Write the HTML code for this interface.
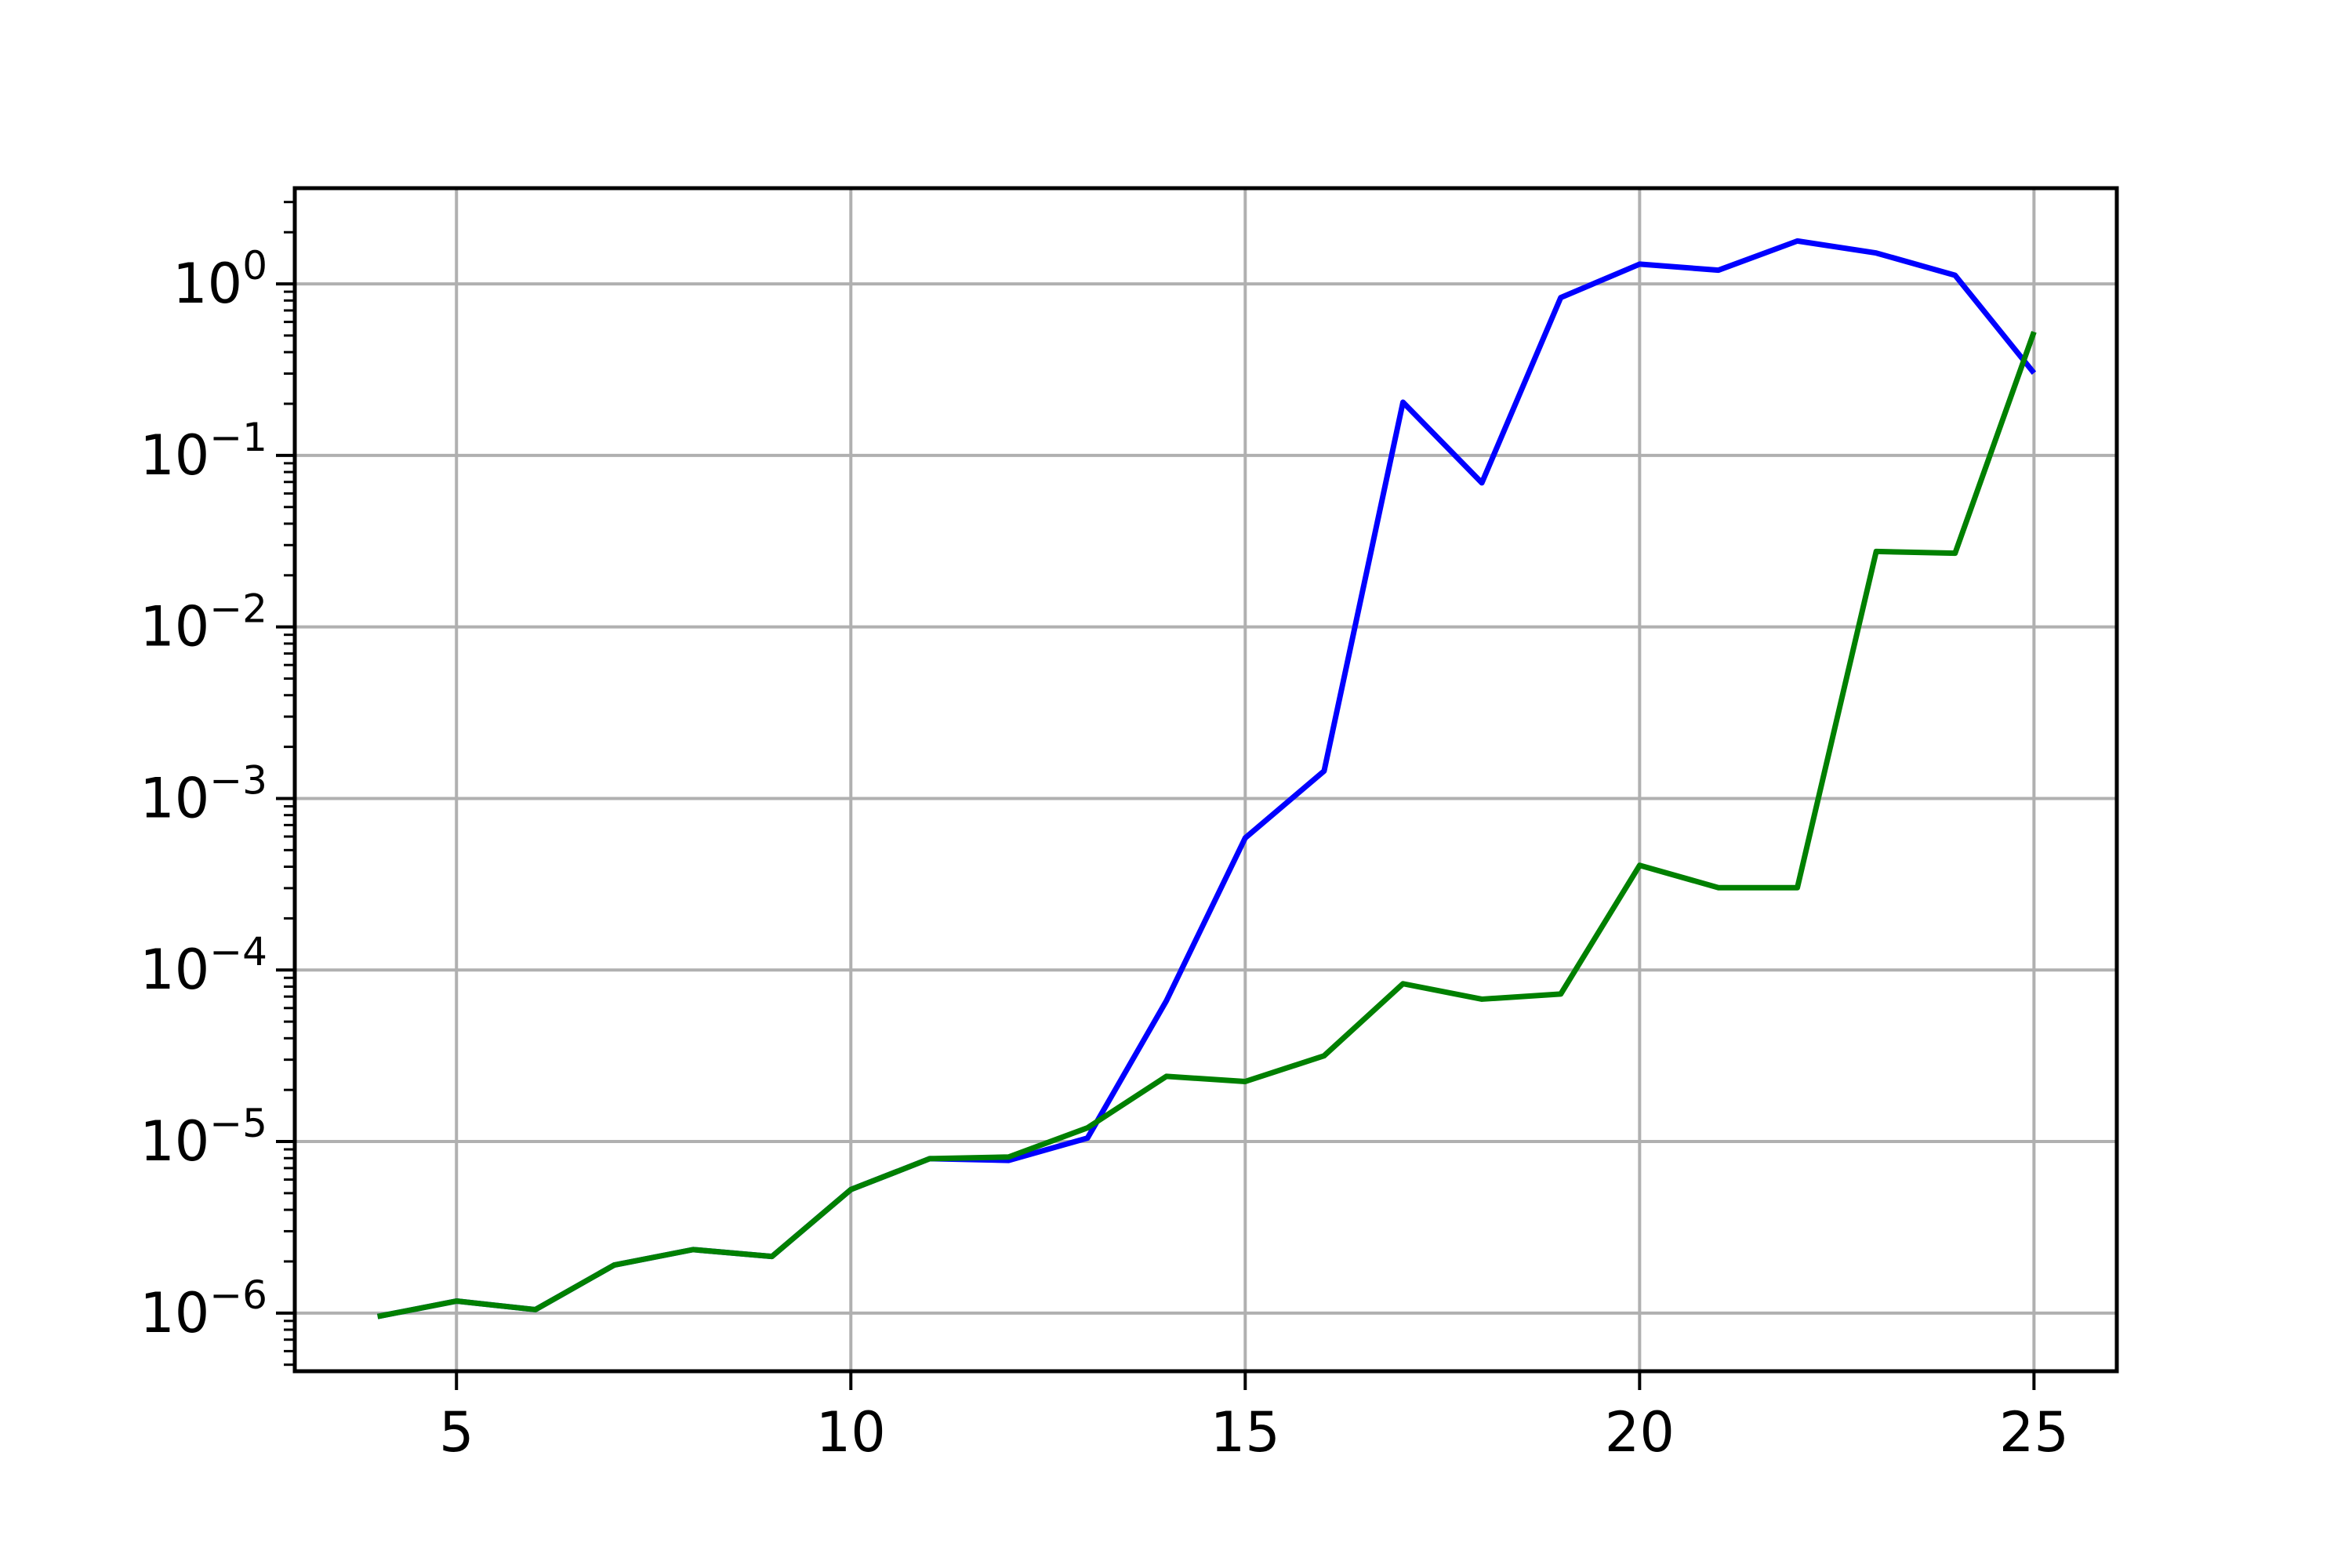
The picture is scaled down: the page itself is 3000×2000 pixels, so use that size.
<!DOCTYPE html>
<html><head><meta charset="utf-8"><style>html,body{margin:0;padding:0;background:#fff}svg{display:block}</style></head>
<body>
<svg id="chart" width="3000" height="2000" xmlns="http://www.w3.org/2000/svg" font-family="'DejaVu Sans','Liberation Sans',sans-serif">
<rect width="3000" height="2000" fill="#fff"/>
<g id="grid"></g><g id="series"></g><g id="axes"></g>
</svg>
<script>
const xs = [4,5,6,7,8,9,10,11,12,13,14,15,16,17,18,19,20,21,22,23,24,25];
const blueLog = [-6.02,-5.93,-5.98,-5.72,-5.63,-5.67,-5.28,-5.10,-5.11,-4.98,-4.18,-3.23,-2.84,-0.69,-1.16,-0.08,0.115,0.08,0.25,0.18,0.05,-0.52];
const greenLog = [-6.02,-5.93,-5.98,-5.72,-5.63,-5.67,-5.28,-5.10,-5.09,-4.92,-4.62,-4.65,-4.50,-4.08,-4.17,-4.14,-3.39,-3.52,-3.52,-1.56,-1.57,-0.28];
const xTicks = [5,10,15,20,25];
const yTickExps = [0,-1,-2,-3,-4,-5,-6];

const L=376,R=2700,T=240,B=1749;
const xMin=2.95,xMax=26.05,yMin=-6.339,yMax=0.558;
const X=v=>L+(v-xMin)/(xMax-xMin)*(R-L);
const Y=lg=>T+(yMax-lg)/(yMax-yMin)*(B-T);
const NS="http://www.w3.org/2000/svg";
function mk(tag,attrs,parent){const e=document.createElementNS(NS,tag);for(const k in attrs)e.setAttribute(k,attrs[k]);parent.appendChild(e);return e;}
const grid=document.getElementById('grid'),series=document.getElementById('series'),axes=document.getElementById('axes');

xTicks.forEach(t=>{
  const g=mk('line',{x1:X(t),x2:X(t),y1:T,y2:B,stroke:'#b0b0b0','stroke-width':4},grid);
  
  
  const tk=mk('line',{x1:X(t),x2:X(t),y1:B,y2:B+24,stroke:'#000','stroke-width':4},axes);
  
  
  const tx=mk('text',{x:X(t),y:1851,'text-anchor':'middle','font-size':70,fill:'#000'},axes);
  tx.textContent=t;
  
  
});
yTickExps.forEach(e=>{
  const y=Y(e);
  const g=mk('line',{x1:L,x2:R,y1:y,y2:y,stroke:'#b0b0b0','stroke-width':4},grid);
  
  
  const tk=mk('line',{x1:L-24,x2:L,y1:y,y2:y,stroke:'#000','stroke-width':4},axes);
  
  
  const tx=mk('text',{x:341,y:y+24,'text-anchor':'end','font-size':70,fill:'#000'},axes);
  
  
  const a=mk('tspan',{},tx);a.textContent='10';
  const b=mk('tspan',{dy:-30,'font-size':50},tx);b.textContent=e===0?'0':'\u2212'+(-e);
});
for(let d=-7;d<=0;d++){for(let m=2;m<=9;m++){const lg=d+Math.log10(m);if(lg<yMin||lg>yMax)continue;
  const tk=mk('line',{x1:L-14,x2:L,y1:Y(lg),y2:Y(lg),stroke:'#000','stroke-width':3},axes);
  
  }}
function line(vals,color,name){
  const p=mk('polyline',{points:xs.map((x,i)=>X(x)+','+Y(vals[i])).join(' '),fill:'none',stroke:color,'stroke-width':7,'stroke-linejoin':'round'},series);
  
  
}
line(blueLog,'#0000ff','blue-series');
line(greenLog,'#008000','green-series');
const fr=mk('rect',{x:L,y:T,width:R-L,height:B-T,fill:'none',stroke:'#000','stroke-width':5},axes);


</script>
</body></html>
